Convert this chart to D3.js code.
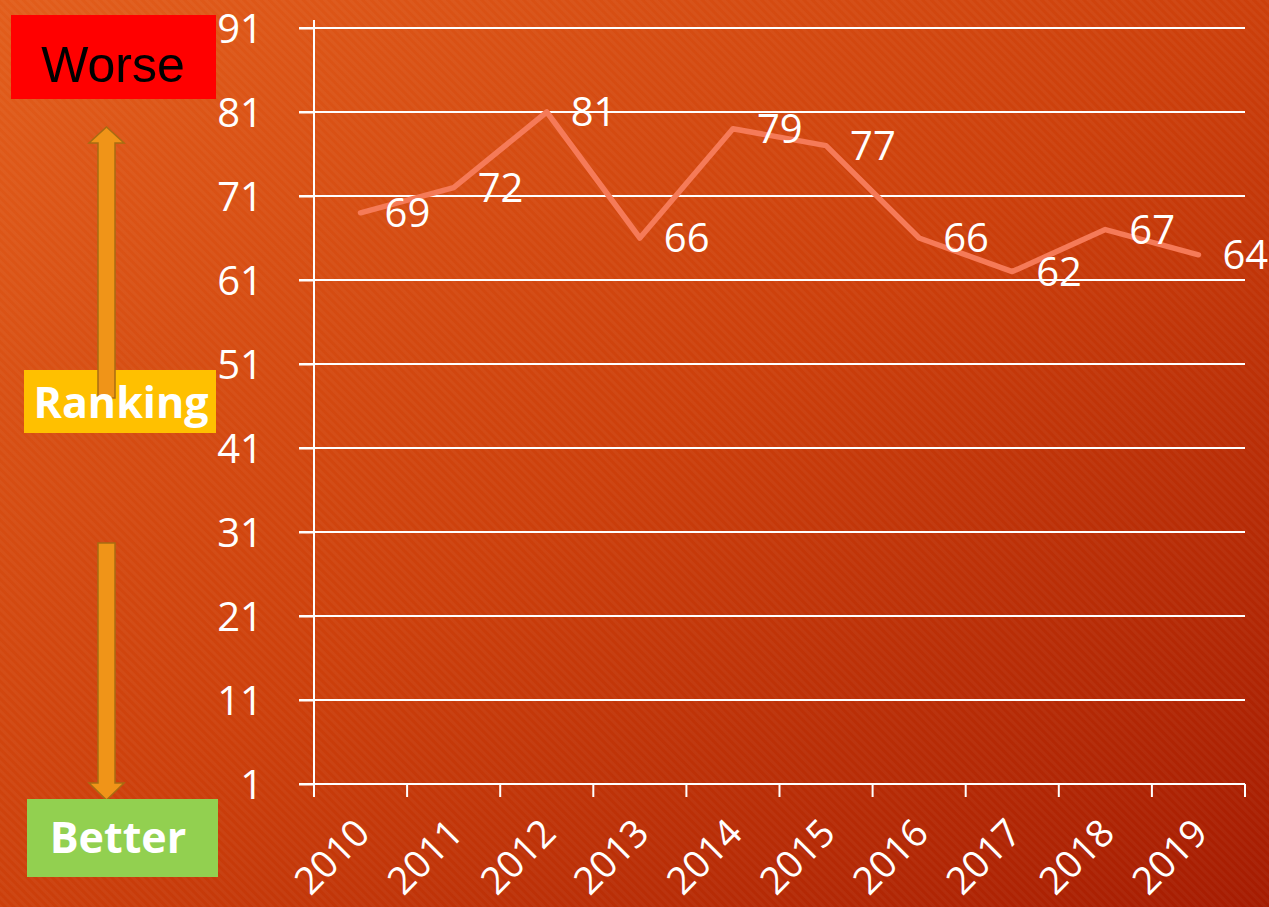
<!DOCTYPE html>
<html>
<head>
<meta charset="utf-8">
<script src="https://cdn.jsdelivr.net/npm/d3@7"></script>
<style>
  html, body { margin: 0; padding: 0; background: #c8400c; }
  svg { display: block; }
</style>
</head>
<body>
<svg id="chart" width="1269" height="907"></svg>
<script>
const years = ["2010", "2011", "2012", "2013", "2014", "2015", "2016", "2017", "2018", "2019"];
const ranking = [69, 72, 81, 66, 79, 77, 66, 62, 67, 64];
const yTicks = [1, 11, 21, 31, 41, 51, 61, 71, 81, 91];

const svg = d3.select("#chart");
const width = +svg.attr("width");
const height = +svg.attr("height");

const plotLeft = 314, plotRight = 1245, plotTop = 28, plotBottom = 784;
const font = "'Open Sans', 'DejaVu Sans', sans-serif";

// background gradient + faint diagonal stripes
const defs = svg.append("defs");
const grad = defs.append("linearGradient")
    .attr("id", "bg")
    .attr("x1", "0%").attr("y1", "0%")
    .attr("x2", "100%").attr("y2", "100%");
grad.append("stop").attr("offset", "0%").attr("stop-color", "#e25d1b");
grad.append("stop").attr("offset", "50%").attr("stop-color", "#cc3f0b");
grad.append("stop").attr("offset", "100%").attr("stop-color", "#a51b01");

const stripes = defs.append("pattern")
    .attr("id", "stripes")
    .attr("width", 6).attr("height", 6)
    .attr("patternUnits", "userSpaceOnUse")
    .attr("patternTransform", "rotate(-45)");
stripes.append("rect")
    .attr("width", 3).attr("height", 6)
    .attr("fill", "#ffffff")
    .attr("opacity", 0.035);

svg.append("rect").attr("width", width).attr("height", height).attr("fill", "url(#bg)");
svg.append("rect").attr("width", width).attr("height", height).attr("fill", "url(#stripes)");

const x = d3.scaleBand().domain(years).range([plotLeft, plotRight]).padding(0);
const y = d3.scaleLinear().domain([1, 91]).range([plotBottom, plotTop]);

// horizontal gridlines (with little ticks left of the axis)
svg.append("g")
    .selectAll("line")
    .data(yTicks.filter(d => d !== 1))
    .enter().append("line")
    .attr("x1", plotLeft - 15)
    .attr("x2", plotRight)
    .attr("y1", d => y(d))
    .attr("y2", d => y(d))
    .attr("stroke", "white")
    .attr("stroke-width", 2);

// y axis
const yAxis = svg.append("g")
    .attr("transform", `translate(${plotLeft},0)`)
    .call(d3.axisLeft(y).tickValues(yTicks).tickSize(15).tickPadding(36));
yAxis.select(".domain").remove();
yAxis.selectAll(".tick line").attr("stroke", "white").attr("stroke-width", 2);
yAxis.selectAll(".tick text")
    .attr("fill", "white")
    .style("font-family", font)
    .style("font-size", "40px")
    .attr("dy", "0.36em");

svg.append("line")
    .attr("x1", plotLeft).attr("x2", plotLeft)
    .attr("y1", plotTop - 8).attr("y2", plotBottom + 13)
    .attr("stroke", "white").attr("stroke-width", 2);

// x axis
svg.append("line")
    .attr("x1", plotLeft - 15).attr("x2", plotRight)
    .attr("y1", plotBottom).attr("y2", plotBottom)
    .attr("stroke", "white").attr("stroke-width", 2);

svg.append("g")
    .selectAll("line")
    .data(years.concat(["end"]))
    .enter().append("line")
    .attr("x1", (d, i) => i < years.length ? x(d) : plotRight)
    .attr("x2", (d, i) => i < years.length ? x(d) : plotRight)
    .attr("y1", plotBottom)
    .attr("y2", plotBottom + 13)
    .attr("stroke", "white")
    .attr("stroke-width", 2);

svg.append("g")
    .selectAll("text")
    .data(years)
    .enter().append("text")
    .attr("transform", d => `translate(${x(d) + x.bandwidth() / 2 - 8},${plotBottom + 32}) rotate(-45)`)
    .attr("text-anchor", "end")
    .attr("dy", "0.72em")
    .attr("fill", "white")
    .style("font-family", font)
    .style("font-size", "38px")
    .text(d => d);

// the ranking line
const line = d3.line()
    .x((d, i) => x(years[i]) + x.bandwidth() / 2)
    .y(d => y(d));

svg.append("path")
    .datum(ranking)
    .attr("d", line)
    .attr("fill", "none")
    .attr("stroke", "#f57a58")
    .attr("stroke-width", 5.5)
    .attr("stroke-linejoin", "round")
    .attr("stroke-linecap", "round");

svg.append("g")
    .selectAll("text")
    .data(ranking)
    .enter().append("text")
    .attr("x", (d, i) => x(years[i]) + x.bandwidth() / 2 + 24)
    .attr("y", d => y(d))
    .attr("dy", "0.36em")
    .attr("fill", "white")
    .style("font-family", font)
    .style("font-size", "40px")
    .text(d => d);

// left side annotation: Worse / Ranking / Better with arrows
const arrowUp = "M98,398 L98,143 L89,143 L106.5,127 L124,143 L115,143 L115,398 Z";
const arrowDown = "M98,543 L115,543 L115,783 L124,783 L106.5,800 L89,783 L98,783 Z";

svg.append("rect")
    .attr("x", 11).attr("y", 15).attr("width", 205).attr("height", 84)
    .attr("fill", "#ff0000");
svg.append("text")
    .attr("x", 113).attr("y", 64).attr("dy", "0.36em")
    .attr("text-anchor", "middle")
    .attr("fill", "#000")
    .style("font-family", "'Liberation Sans', Arial, sans-serif")
    .style("font-size", "50px")
    .text("Worse");

svg.append("rect")
    .attr("x", 24).attr("y", 370).attr("width", 192).attr("height", 63)
    .attr("fill", "#ffc000");

svg.selectAll(".arrow")
    .data([arrowUp, arrowDown])
    .enter().append("path")
    .attr("class", "arrow")
    .attr("d", d => d)
    .attr("fill", "#f09418")
    .attr("stroke", "#a86c12")
    .attr("stroke-width", 1.5);

svg.append("text")
    .attr("x", 121).attr("y", 403).attr("dy", "0.36em")
    .attr("text-anchor", "middle")
    .attr("fill", "white")
    .style("font-family", font)
    .style("font-weight", "bold")
    .style("font-size", "43px")
    .text("Ranking");

svg.append("rect")
    .attr("x", 27).attr("y", 799).attr("width", 191).attr("height", 78)
    .attr("fill", "#92d050");
svg.append("text")
    .attr("x", 118).attr("y", 838).attr("dy", "0.36em")
    .attr("text-anchor", "middle")
    .attr("fill", "white")
    .style("font-family", font)
    .style("font-weight", "bold")
    .style("font-size", "43px")
    .text("Better");
</script>
</body>
</html>
